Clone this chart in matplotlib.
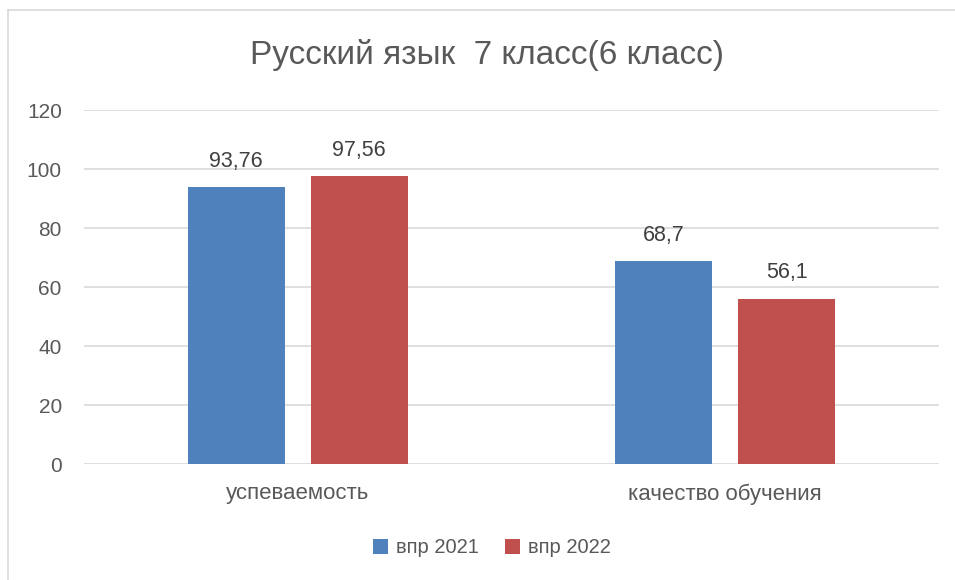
import matplotlib
matplotlib.use("Agg")
import matplotlib.pyplot as plt
from matplotlib.lines import Line2D
import numpy as np

categories = ["успеваемость", "качество обучения"]
vpr_2021 = [93.76, 68.7]
vpr_2022 = [97.56, 56.1]
labels_2021 = ["93,76", "68,7"]
labels_2022 = ["97,56", "56,1"]
series_names = ["впр 2021", "впр 2022"]

plt.rcParams['font.family'] = ['Liberation Sans', 'DejaVu Sans']
text_col = '#595959'

fig = plt.figure(figsize=(9.55, 5.8), dpi=100)
ax = fig.add_axes([0.088, 0.2, 0.895, 0.6103])

x = np.arange(len(categories))
w = 0.227
off = 0.144
b1 = ax.bar(x - off, vpr_2021, w, color='#4F81BD', label=series_names[0], zorder=3)
b2 = ax.bar(x + off, vpr_2022, w, color='#C0504D', label=series_names[1], zorder=3)

for bars, labs in ((b1, labels_2021), (b2, labels_2022)):
    for r, t in zip(bars, labs):
        ax.annotate(t, (r.get_x() + r.get_width() / 2, r.get_height()),
                    xytext=(0, 18.5), textcoords='offset points',
                    ha='center', va='center', fontsize=15.5, color='#404040')

ax.set_xlim(-0.5, 1.5)
ax.set_ylim(0, 120)
ax.set_yticks(range(0, 121, 20))
ax.set_xticks(x)
ax.set_xticklabels(categories)
ax.tick_params(axis='both', length=0, labelsize=15, labelcolor=text_col)
ax.tick_params(axis='y', pad=16)
ax.tick_params(axis='x', pad=14, labelsize=16)
ax.grid(axis='y', color='#D9D9D9', linewidth=1.2, zorder=0)
for s in ax.spines.values():
    s.set_visible(False)

fig.text(0.51, 0.905, "Русский язык  7 класс(6 класс)", ha='center', va='center',
         fontsize=24, color=text_col)

ax.legend(loc='center', bbox_to_anchor=(0.477, -0.237), ncol=2, frameon=False,
          fontsize=14.5, labelcolor=text_col, handlelength=0.75, handleheight=0.75,
          columnspacing=1.3, handletextpad=0.4)

# outer chart border (left and top only visible)
fig.add_artist(Line2D([8 / 955, 8 / 955], [0, 1 - 10 / 580], transform=fig.transFigure,
                      color='#D9D9D9', linewidth=1.2))
fig.add_artist(Line2D([8 / 955, 1], [1 - 10 / 580, 1 - 10 / 580], transform=fig.transFigure,
                      color='#D9D9D9', linewidth=1.2))

fig.savefig("out.png", dpi=100, facecolor='white')
